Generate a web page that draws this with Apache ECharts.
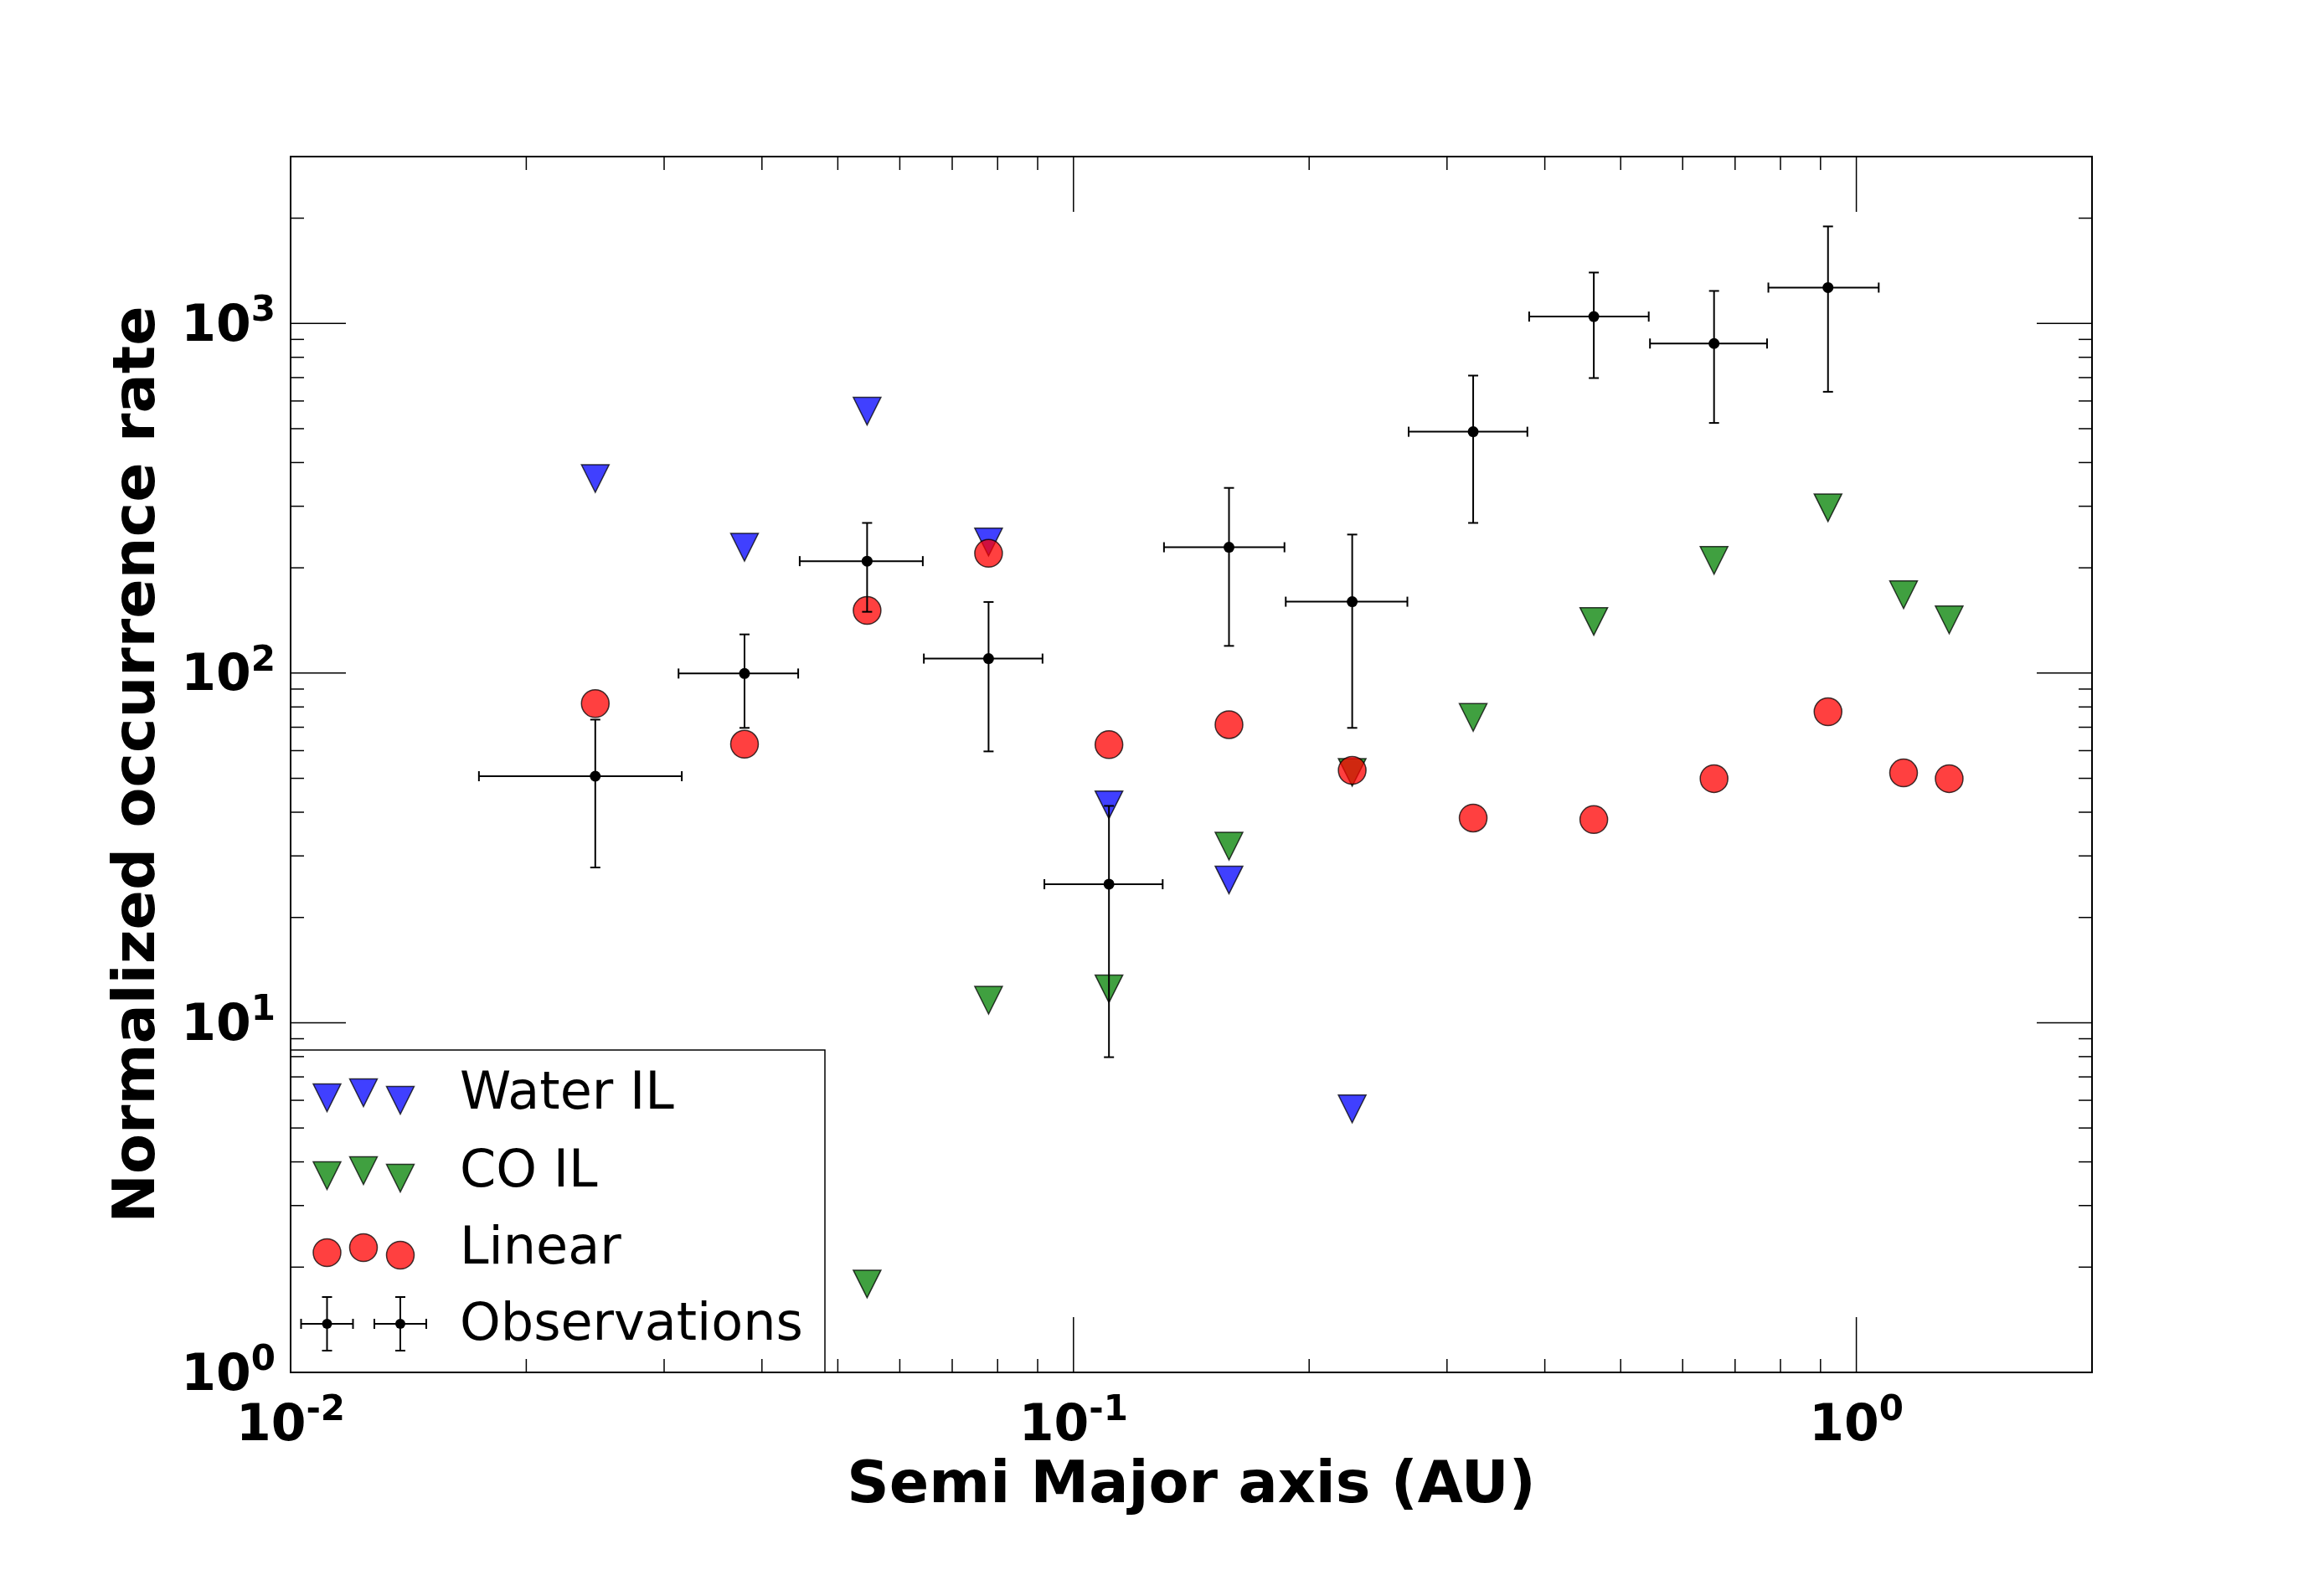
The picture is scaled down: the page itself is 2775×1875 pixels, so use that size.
<!DOCTYPE html>
<html>
<head>
<meta charset="utf-8">
<script src="https://cdn.jsdelivr.net/npm/echarts@6/dist/echarts.min.js"></script>
<style>
  html, body { margin: 0; padding: 0; background: #fff; }
  #chart { width: 2775px; height: 1875px; }
</style>
</head>
<body>
<div id="chart"></div>
<script>
const FONT = 'DejaVu Sans'

// model bins (AU) and normalized occurrence rates
const binAxis = [0.0245, 0.0380, 0.0545, 0.0779, 0.111, 0.158, 0.227, 0.324, 0.462, 0.658, 0.920, 1.149, 1.314]
const waterIL = [360, 229, 561, 237, 42.0, 25.6, 5.67, null, null, null, null, null, null]
const coIL = [null, null, 1.79, 11.6, 12.5, 32.0, 52.0, 74.7, 140.5, 210, 297, 167.5, 142]
const linear = [81.8, 62.6, 151, 220, 62.4, 71.2, 52.7, 38.5, 38.1, 49.9, 77.5, 51.8, 49.9]

// observations with error bars
const obsAxis = [0.0245, 0.0380, 0.0545, 0.0779, 0.111, 0.158, 0.227, 0.324, 0.462, 0.658, 0.920]
const obsAxisLo = [0.0174, 0.0313, 0.0447, 0.0644, 0.0918, 0.1305, 0.1867, 0.268, 0.382, 0.545, 0.772]
const obsAxisHi = [0.0316, 0.0445, 0.0642, 0.0913, 0.130, 0.186, 0.267, 0.380, 0.543, 0.769, 1.068]
const obsRate = [50.7, 99.7, 209, 110, 24.9, 229, 160, 490, 1046, 876, 1266]
const obsRateLo = [27.8, 69.7, 149.7, 59.7, 7.97, 119.6, 69.7, 268.8, 697.8, 519.2, 637.5]
const obsRateHi = [73.6, 129, 268.8, 159.7, 41.7, 338.5, 249, 709.3, 1398, 1238.5, 1894]

// axes
const X_MIN = 0.01
const X_MAX = 2
const Y_MIN = 1
const Y_MAX = 3000
const xDecades = [0.01, 0.1, 1]
const yDecades = [1, 10, 100, 1000]

function logTicks(decades, max) {
  const ticks = []
  decades.forEach(d => {
    ticks.push([d, 1])
    for (let k = 2; k <= 9; k++) {
      if (k * d < max) ticks.push([k * d, 0])
    }
  })
  return ticks
}

function powLabel(value) {
  const e = Math.round(Math.log10(value))
  if (Math.abs(Math.log10(value) - e) > 1e-6) return ''
  return '{b|10}{s|' + (e < 0 ? '-' + (-e) : e) + '}'
}

const labelRich = {
  b: { fontFamily: FONT, fontWeight: 'bold', fontSize: 60, color: '#000', lineHeight: 70, verticalAlign: 'bottom' },
  s: { fontFamily: FONT, fontWeight: 'bold', fontSize: 42, color: '#000', lineHeight: 26, verticalAlign: 'top' }
}

function tickSeries(isX) {
  const ticks = isX ? logTicks(xDecades, X_MAX) : logTicks(yDecades, Y_MAX)
  return {
    type: 'custom',
    silent: true,
    z: 5,
    clip: false,
    encode: { x: 0, y: 1 },
    data: ticks.map(t => isX ? [t[0], Y_MIN, t[1]] : [X_MIN, t[0], t[1]]),
    renderItem(params, api) {
      const len = api.value(2) === 1 ? 66 : 16
      const style = { stroke: '#000', lineWidth: 1.5 }
      if (isX) {
        const v = api.value(0)
        const p0 = api.coord([v, Y_MIN])
        const p1 = api.coord([v, Y_MAX])
        return { type: 'group', children: [
          { type: 'line', shape: { x1: p0[0], y1: p0[1], x2: p0[0], y2: p0[1] - len }, style },
          { type: 'line', shape: { x1: p1[0], y1: p1[1], x2: p1[0], y2: p1[1] + len }, style }
        ] }
      }
      const v = api.value(1)
      const p0 = api.coord([X_MIN, v])
      const p1 = api.coord([X_MAX, v])
      return { type: 'group', children: [
        { type: 'line', shape: { x1: p0[0], y1: p0[1], x2: p0[0] + len, y2: p0[1] }, style },
        { type: 'line', shape: { x1: p1[0], y1: p1[1], x2: p1[0] - len, y2: p1[1] }, style }
      ] }
    }
  }
}

function pairs(values) {
  return binAxis.map((a, i) => [a, values[i]]).filter(d => d[1] != null)
}

const markerEdge = 'rgba(0,0,0,0.75)'
const colors = {
  water: 'rgba(0,0,255,0.75)',
  co: 'rgba(0,128,0,0.75)',
  linear: 'rgba(255,0,0,0.75)'
}

// legend (matplotlib style, three markers per entry)
const LEG = { x: 347, y: 1254, w: 638, h: 385 }
const legRows = [54, 147, 239, 330]
const legMarkX = [43.5, 87, 131]
const legMarkDy = [3, -3, 6]
const legNames = ['Water IL', 'CO IL', 'Linear', 'Observations']

function legendGraphic() {
  const els = [{
    type: 'rect',
    shape: { x: LEG.x, y: LEG.y, width: LEG.w, height: LEG.h },
    style: { fill: '#fff', stroke: '#000', lineWidth: 1.5 }
  }]
  const s = 33
  const tri = (cx, cy, fill) => ({
    type: 'polygon',
    shape: { points: [[cx - s / 2, cy - s / 2], [cx + s / 2, cy - s / 2], [cx, cy + s / 2]] },
    style: { fill, stroke: markerEdge, lineWidth: 1.5 }
  })
  legMarkX.forEach((dx, k) => {
    const cx = LEG.x + dx
    els.push(tri(cx, LEG.y + legRows[0] + legMarkDy[k], colors.water))
    els.push(tri(cx, LEG.y + legRows[1] + legMarkDy[k], colors.co))
    els.push({
      type: 'circle',
      shape: { cx, cy: LEG.y + legRows[2] + legMarkDy[k], r: s / 2 },
      style: { fill: colors.linear, stroke: markerEdge, lineWidth: 1.5 }
    })
  })
  const st = { stroke: '#000', lineWidth: 2 };
  [legMarkX[0], legMarkX[2]].forEach(dx => {
    const cx = LEG.x + dx
    const cy = LEG.y + legRows[3] - 3
    els.push({ type: 'line', shape: { x1: cx - 31, y1: cy, x2: cx + 31, y2: cy }, style: st })
    els.push({ type: 'line', shape: { x1: cx, y1: cy - 32, x2: cx, y2: cy + 32 }, style: st })
    els.push({ type: 'line', shape: { x1: cx - 31, y1: cy - 6, x2: cx - 31, y2: cy + 6 }, style: st })
    els.push({ type: 'line', shape: { x1: cx + 31, y1: cy - 6, x2: cx + 31, y2: cy + 6 }, style: st })
    els.push({ type: 'line', shape: { x1: cx - 6, y1: cy - 32, x2: cx + 6, y2: cy - 32 }, style: st })
    els.push({ type: 'line', shape: { x1: cx - 6, y1: cy + 32, x2: cx + 6, y2: cy + 32 }, style: st })
    els.push({ type: 'circle', shape: { cx, cy, r: 6 }, style: { fill: '#000' } })
  })
  legNames.forEach((name, i) => {
    els.push({
      type: 'text',
      x: LEG.x + 202,
      y: LEG.y + legRows[i],
      style: { text: name, fontFamily: FONT, fontSize: 62, fill: '#000', verticalAlign: 'middle', align: 'left' }
    })
  })
  return [{ type: 'group', z: 100, children: els }]
}

const chart = echarts.init(document.getElementById('chart'))
chart.setOption({
  backgroundColor: '#ffffff',
  animation: false,
  grid: {
    left: 347,
    right: 277,
    top: 187,
    bottom: 236,
    show: true,
    borderColor: '#000',
    borderWidth: 2,
    backgroundColor: 'transparent'
  },
  xAxis: {
    type: 'log',
    logBase: 10,
    min: X_MIN,
    max: X_MAX,
    name: 'Semi Major axis (AU)',
    nameLocation: 'middle',
    nameGap: 102,
    nameTextStyle: { fontFamily: FONT, fontWeight: 'bold', fontSize: 70, color: '#000' },
    axisLine: { show: true, lineStyle: { color: '#000', width: 2 } },
    axisTick: { show: false },
    splitLine: { show: false },
    axisLabel: { margin: 25, formatter: powLabel, rich: labelRich }
  },
  yAxis: {
    type: 'log',
    logBase: 10,
    min: Y_MIN,
    max: Y_MAX,
    name: 'Normalized occurrence rate',
    nameLocation: 'middle',
    nameGap: 146,
    nameTextStyle: { fontFamily: FONT, fontWeight: 'bold', fontSize: 70, color: '#000' },
    axisLine: { show: true, lineStyle: { color: '#000', width: 2 } },
    axisTick: { show: false },
    splitLine: { show: false },
    axisLabel: { margin: 18, formatter: powLabel, rich: labelRich }
  },
  graphic: legendGraphic(),
  series: [
    {
      type: 'scatter',
      name: 'Water IL',
      data: pairs(waterIL),
      symbol: 'triangle',
      symbolRotate: 180,
      symbolSize: 33,
      itemStyle: { color: colors.water, borderColor: markerEdge, borderWidth: 1.5, opacity: 1 }
    },
    {
      type: 'scatter',
      name: 'CO IL',
      data: pairs(coIL),
      symbol: 'triangle',
      symbolRotate: 180,
      symbolSize: 33,
      itemStyle: { color: colors.co, borderColor: markerEdge, borderWidth: 1.5, opacity: 1 }
    },
    {
      type: 'scatter',
      name: 'Linear',
      data: pairs(linear),
      symbol: 'circle',
      symbolSize: 33,
      itemStyle: { color: colors.linear, borderColor: markerEdge, borderWidth: 1.5, opacity: 1 }
    },
    {
      type: 'custom',
      name: 'Observations',
      z: 4,
      encode: { x: 0, y: 1 },
      data: obsAxis.map((a, i) => [a, obsRate[i], obsAxisLo[i], obsAxisHi[i], obsRateLo[i], obsRateHi[i]]),
      renderItem(params, api) {
        const x = api.value(0)
        const y = api.value(1)
        const c = api.coord([x, y])
        const l = api.coord([api.value(2), y])
        const r = api.coord([api.value(3), y])
        const b = api.coord([x, api.value(4)])
        const t = api.coord([x, api.value(5)])
        const st = { stroke: '#000', lineWidth: 2 }
        const cap = 6
        return {
          type: 'group',
          children: [
            { type: 'line', shape: { x1: l[0], y1: c[1], x2: r[0], y2: c[1] }, style: st },
            { type: 'line', shape: { x1: c[0], y1: t[1], x2: c[0], y2: b[1] }, style: st },
            { type: 'line', shape: { x1: l[0], y1: c[1] - cap, x2: l[0], y2: c[1] + cap }, style: st },
            { type: 'line', shape: { x1: r[0], y1: c[1] - cap, x2: r[0], y2: c[1] + cap }, style: st },
            { type: 'line', shape: { x1: c[0] - cap, y1: t[1], x2: c[0] + cap, y2: t[1] }, style: st },
            { type: 'line', shape: { x1: c[0] - cap, y1: b[1], x2: c[0] + cap, y2: b[1] }, style: st },
            { type: 'circle', shape: { cx: c[0], cy: c[1], r: 6.5 }, style: { fill: '#000' } }
          ]
        }
      }
    },
    tickSeries(true),
    tickSeries(false)
  ]
})
</script>
</body>
</html>
